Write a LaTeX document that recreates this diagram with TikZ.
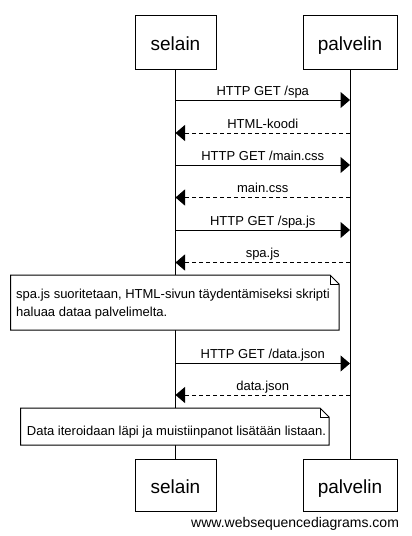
\documentclass[tikz,border=0pt]{standalone}
\usepackage{fontspec}
\setmainfont{Liberation Sans}
\usetikzlibrary{arrows.meta,calc}
\begin{document}
\begin{tikzpicture}[x=1pt,y=-1pt,
  actor/.style={draw, line width=1pt, fill=white, inner sep=0pt,
    text height=16pt, text depth=0pt, font=\fontsize{19}{23}\selectfont},
  life/.style={line width=1pt},
  req/.style={line width=1pt, -{Triangle[length=9.5pt,width=16pt]}},
  resp/.style={line width=1pt, dash pattern=on 4pt off 3pt, -{Triangle[length=9.5pt,width=16pt]}},
  lbl/.style={midway, anchor=base, yshift=5pt, inner sep=0pt, font=\fontsize{13}{15}\selectfont},
  notebox/.style={draw, line width=1pt, fill=white, line join=miter},
  fold/.style={line width=1pt},
  notetext/.style={anchor=base west, inner sep=0pt, font=\fontsize{13}{15}\selectfont}
]
\useasboundingbox (0,0) rectangle (412,536);
\fill[white] (0,0) rectangle (412,536);

% actors
\node[actor, minimum width=81pt, minimum height=54pt] (st) at (175.5,42) {selain};
\node[actor, minimum width=94pt, minimum height=54pt] (pt) at (350,42) {palvelin};
\node[actor, minimum width=81pt, minimum height=52pt] (sb) at (175.5,485) {selain};
\node[actor, minimum width=94pt, minimum height=52pt] (pb) at (350,485) {palvelin};

% lifelines
\draw[life] (st.south) -- (sb.north);
\draw[life] (pt.south) -- (pb.north);

% message anchor points on lifelines
\foreach \yy/\i in {100/1,133/2,165/3,197.5/4,230/5,262.5/6,363.5/7,395/8}{
  \coordinate (s\i) at (175.5,\yy);
  \coordinate (p\i) at (350,\yy);
}

% messages
\draw[req]  (s1) -- (p1) node[lbl] {HTTP GET /spa};
\draw[resp] (p2) -- (s2) node[lbl] {HTML-koodi};
\draw[req]  (s3) -- (p3) node[lbl] {HTTP GET /main.css};
\draw[resp] (p4) -- (s4) node[lbl] {main.css};
\draw[req]  (s5) -- (p5) node[lbl] {HTTP GET /spa.js};
\draw[resp] (p6) -- (s6) node[lbl] {spa.js};
\draw[req]  (s7) -- (p7) node[lbl] {HTTP GET /data.json};
\draw[resp] (p8) -- (s8) node[lbl] {data.json};

% note 1
\draw[notebox] (10.7,275) -- (330,275) -- (339,284) -- (339,330) -- (10.7,330) -- cycle;
\draw[fold] (330,275) -- (330,284) -- (339,284);
\node[notetext] (n1a) at (16,298.5) {spa.js suoritetaan, HTML-sivun täydentämiseksi skripti};
\node[notetext] (n1b) at (16,316) {haluaa dataa palvelimelta.};

% note 2
\draw[notebox] (20.7,408) -- (320,408) -- (329,417) -- (329,445) -- (20.7,445) -- cycle;
\draw[fold] (320,408) -- (320,417) -- (329,417);
\node[notetext] (n2) at (26.7,435) {Data iteroidaan läpi ja muistiinpanot lisätään listaan.};

% watermark
\node[anchor=base west, inner sep=0pt, font=\fontsize{14}{16}\selectfont] (wm) at (191,527) {www.websequencediagrams.com};
\end{tikzpicture}
\end{document}
